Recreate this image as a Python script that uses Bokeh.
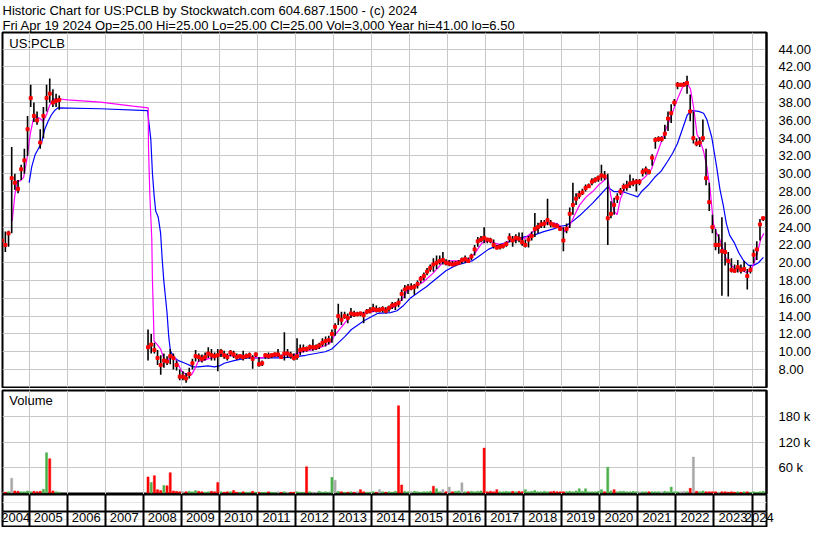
from bokeh.plotting import figure
from bokeh.models import (Range1d, FixedTicker, NumeralTickFormatter, Grid, LinearAxis,
                          Title, Label, CustomJSTickFormatter, ColumnDataSource)
from bokeh.layouts import column
from bokeh.embed import file_html
from bokeh.resources import INLINE

# ---------------- data ----------------
header_line1 = "Historic Chart for US:PCLB by Stockwatch.com 604.687.1500 - (c) 2024"
header_line2 = "Fri Apr 19 2024  Op=25.00  Hi=25.00  Lo=25.00  Cl=25.00  Vol=3,000  Year hi=41.00  lo=6.50"
symbol = "US:PCLB"
volume_title = "Volume"

# trading periods (year, month) inclusive
periods = [((2004, 4), (2005, 10)), ((2008, 2), (2024, 4))]

high = [
    24.0, 23.5, 23.6, 33.0, 30.0, 29.3, 31.0, 32.8, 36.5,
    40.0, 38.0, 37.0, 35.0, 37.5, 40.0, 40.7, 39.5, 39.0, 38.8,
    12.5, 12.0, 11.0, 10.2, 9.6, 9.8, 9.5, 10.3, 9.8, 9.0, 8.0,
    7.8, 7.6, 8.2, 9.2, 10.2, 9.8, 9.7, 9.9, 10.5, 10.3, 9.9, 10.3,
    10.3, 10.1, 9.8, 10.2, 10.1, 9.8, 9.7, 10.1, 9.8, 9.9, 9.6, 9.9,
    9.4, 9.0, 9.8, 9.9, 9.8, 9.9, 10.3, 9.7, 12.2, 10.3, 10.0, 9.8,
    11.5, 10.8, 10.8, 10.6, 10.8, 11.4, 10.8, 11.0, 11.5, 11.7, 11.8, 12.5,
    13.2, 15.4, 14.5, 14.5, 14.3, 14.9, 14.6, 14.5, 14.5, 14.5, 14.8, 15.0,
    15.4, 15.2, 15.0, 15.1, 15.0, 15.2, 15.6, 15.6, 16.0, 17.0, 17.5, 17.6,
    17.7, 17.6, 18.0, 18.5, 18.9, 19.4, 19.8, 20.5, 20.8, 20.8, 21.2, 20.4,
    20.3, 20.2, 20.2, 20.3, 20.6, 20.8, 20.6, 21.0, 22.0, 22.9, 23.0, 24.0,
    22.8, 22.8, 22.6, 22.0, 22.1, 22.1, 22.4, 23.3, 23.0, 23.2, 23.4, 23.4,
    22.6, 23.0, 23.5, 25.6, 24.5, 24.8, 24.8, 27.2, 24.8, 24.5, 24.4, 24.1,
    24.0, 24.4, 26.2, 29.0, 27.8, 28.1, 28.3, 28.8, 28.9, 29.5, 29.6, 29.8,
    31.0, 30.3, 30.0, 26.9, 27.3, 27.8, 28.4, 28.9, 29.2, 29.9, 29.5, 29.4,
    29.4, 30.6, 30.8, 30.5, 32.2, 34.1, 34.2, 34.2, 35.5, 37.0, 37.8, 38.4,
    40.3, 40.2, 40.3, 41.0, 38.9, 37.0, 34.0, 34.1, 36.1, 32.8, 29.0, 25.4,
    23.8, 23.2, 25.1, 22.3, 21.2, 20.5, 19.8, 20.3, 19.8, 20.2, 19.3, 19.7,
    21.5, 22.4, 24.9, 25.1,
]
low = [
    21.5, 21.2, 21.8, 23.3, 28.2, 27.8, 29.3, 30.0, 32.0,
    37.5, 35.8, 35.5, 32.8, 34.0, 37.0, 38.0, 37.5, 37.5, 37.2,
    9.0, 9.8, 9.8, 8.5, 7.4, 8.2, 8.5, 8.6, 8.0, 7.9, 6.8,
    6.8, 6.5, 7.0, 8.0, 8.9, 8.9, 8.8, 9.0, 9.3, 9.0, 9.0, 7.8,
    9.4, 9.2, 9.0, 9.5, 9.3, 9.1, 9.2, 9.0, 9.2, 9.2, 8.1, 9.4,
    8.3, 8.4, 9.2, 9.2, 9.3, 9.4, 9.4, 9.2, 9.0, 9.3, 9.2, 9.0,
    9.1, 9.6, 9.9, 10.0, 10.2, 10.1, 10.2, 10.3, 10.6, 10.6, 10.8, 11.0,
    11.8, 13.0, 13.0, 13.7, 13.2, 13.8, 13.9, 14.0, 14.0, 13.2, 14.2, 14.3,
    14.5, 14.4, 14.4, 14.4, 14.3, 14.5, 14.8, 14.7, 15.0, 15.7, 16.0, 16.5,
    16.9, 16.4, 17.1, 17.7, 18.0, 18.6, 19.0, 19.0, 19.3, 19.8, 19.8, 19.7,
    19.6, 19.7, 19.6, 19.8, 19.9, 20.0, 20.0, 20.3, 20.8, 21.8, 22.3, 22.2,
    22.2, 22.2, 21.6, 21.5, 21.5, 21.6, 21.8, 22.3, 21.8, 22.2, 22.3, 21.9,
    21.7, 21.7, 22.5, 22.9, 23.3, 23.9, 23.9, 24.2, 24.0, 24.0, 23.9, 23.6,
    21.3, 23.3, 23.9, 25.4, 26.5, 27.2, 27.6, 28.0, 28.4, 28.7, 29.0, 29.1,
    29.2, 29.3, 22.0, 25.0, 25.4, 26.7, 27.6, 28.0, 28.1, 28.4, 28.6, 28.0,
    28.7, 29.7, 29.9, 29.9, 30.9, 32.8, 33.6, 33.6, 33.9, 34.8, 35.7, 37.6,
    39.5, 39.8, 39.8, 39.0, 35.9, 33.4, 33.1, 33.0, 33.6, 28.7, 25.8, 23.3,
    21.4, 21.0, 16.3, 19.7, 16.2, 18.9, 18.9, 18.9, 18.8, 19.0, 17.0, 18.8,
    19.9, 20.3, 22.5, 24.7,
]
close = [
    22.5, 22.0, 23.3, 29.5, 29.0, 28.3, 30.5, 31.5, 35.0,
    38.5, 36.5, 36.0, 33.5, 36.5, 38.5, 39.0, 38.0, 38.2, 38.3,
    10.5, 10.8, 10.2, 9.3, 8.5, 9.0, 8.9, 9.5, 9.3, 8.5, 7.2,
    7.2, 7.0, 7.5, 8.7, 9.5, 9.4, 9.2, 9.4, 9.8, 9.6, 9.5, 9.6,
    10.0, 9.6, 9.4, 9.9, 9.7, 9.4, 9.5, 9.4, 9.5, 9.6, 9.2, 9.7,
    8.6, 8.7, 9.6, 9.5, 9.6, 9.7, 9.7, 9.4, 9.8, 9.8, 9.6, 9.3,
    9.5, 10.2, 10.3, 10.3, 10.5, 10.5, 10.5, 10.7, 11.0, 11.2, 11.3, 12.0,
    12.8, 14.0, 13.6, 14.0, 13.8, 14.3, 14.2, 14.2, 14.3, 14.1, 14.5, 14.6,
    14.8, 14.7, 14.7, 14.8, 14.6, 14.9, 15.2, 15.3, 15.5, 16.5, 17.0, 17.2,
    17.2, 17.3, 17.6, 18.2, 18.5, 19.0, 19.4, 19.8, 20.0, 20.2, 20.3, 20.0,
    19.9, 19.8, 19.9, 20.0, 20.3, 20.4, 20.2, 20.7, 21.5, 22.4, 22.6, 22.8,
    22.6, 22.5, 22.0, 21.7, 21.8, 21.9, 22.1, 22.8, 22.5, 22.8, 22.7, 22.3,
    22.0, 22.6, 23.0, 23.8, 24.0, 24.3, 24.4, 24.8, 24.4, 24.2, 24.1, 23.8,
    22.5, 23.8, 25.5, 26.5, 27.2, 27.6, 27.9, 28.4, 28.6, 29.1, 29.3, 29.5,
    29.8, 29.7, 25.0, 25.5, 26.5, 27.3, 28.0, 28.5, 28.6, 28.9, 29.0, 29.1,
    29.1, 30.2, 30.4, 30.2, 31.8, 33.8, 33.9, 33.9, 34.5, 36.2, 36.8, 38.0,
    40.0, 40.0, 40.0, 40.2, 37.0, 34.0, 33.4, 33.5, 34.0, 29.5, 26.8, 24.0,
    22.0, 22.0, 21.3, 21.2, 20.2, 19.2, 19.1, 19.5, 19.2, 19.3, 18.5, 19.2,
    20.9, 21.5, 24.3, 25.0,
]
volume_k = [
    3, 2, 3, 35, 5, 4, 3, 3, 5,
    3, 4, 3, 4, 9, 95, 81, 5, 3, 2,
    38, 25, 41, 8, 6, 18, 17, 48, 5, 4, 3,
    3, 3, 4, 3, 6, 4, 3, 2, 3, 4, 3, 25,
    3, 2, 3, 3, 6, 2, 2, 3, 2, 2, 4, 2,
    2, 2, 2, 3, 2, 2, 3, 2, 3, 2, 2, 2,
    3, 2, 2, 62, 3, 2, 2, 4, 2, 3, 2, 37,
    30, 4, 3, 2, 2, 3, 2, 3, 8, 3, 2, 2,
    3, 2, 8, 3, 2, 3, 2, 4, 206, 19, 4, 3,
    3, 4, 3, 2, 3, 3, 4, 16, 10, 3, 8, 3,
    14, 3, 4, 5, 24, 3, 3, 4, 3, 4, 5, 106,
    3, 4, 3, 8, 3, 3, 4, 3, 4, 3, 4, 3,
    8, 3, 4, 6, 3, 3, 4, 3, 3, 4, 3, 3,
    3, 3, 4, 3, 5, 10, 4, 10, 3, 3, 3, 4,
    8, 3, 61, 5, 8, 3, 4, 4, 3, 3, 4, 3,
    3, 3, 3, 3, 3, 3, 3, 3, 4, 3, 14, 3,
    3, 3, 4, 3, 11, 85, 4, 3, 5, 3, 3, 3,
    3, 2, 3, 3, 2, 3, 2, 3, 2, 3, 3, 2,
    3, 2, 3, 4,
]
# volume bar direction (u=up, d=down, n=unchanged)
volume_dir_known = {
    "2004-07": "n", "2005-06": "u", "2005-07": "d", "2008-02": "d", "2008-03": "u",
    "2008-04": "d", "2008-07": "u", "2008-08": "d", "2008-09": "d", "2009-12": "d",
    "2012-04": "d", "2012-12": "u", "2013-01": "n", "2013-09": "d", "2014-03": "n",
    "2014-09": "d", "2014-10": "d", "2015-08": "d", "2015-09": "u", "2015-11": "n",
    "2016-01": "n", "2016-05": "n", "2016-12": "d", "2018-01": "u", "2019-06": "u",
    "2019-08": "u", "2020-01": "u", "2020-03": "u", "2020-05": "d", "2021-11": "u",
    "2022-05": "d", "2022-06": "n",
}

# short moving average (magenta): decimal year, price
ma_short_t = [2004.555, 2004.625, 2004.684, 2004.769, 2004.856, 2004.941, 2005.026, 2005.113,
              2005.198, 2005.283, 2005.370, 2005.455, 2005.540, 2005.627, 2005.797, 2006.013,
              2006.869, 2007.726, 2008.129, 2008.137, 2008.173, 2008.224, 2008.240, 2008.266,
              2008.284, 2008.368, 2008.456, 2008.541, 2008.626, 2008.754, 2008.842, 2008.926,
              2009.011, 2009.140, 2009.268, 2009.356, 2009.441, 2009.569, 2009.698, 2009.870,
              2010.040, 2010.212, 2010.384, 2010.554, 2010.726, 2010.899, 2011.068, 2011.241,
              2011.413, 2011.583, 2011.755, 2011.927, 2012.097, 2012.269, 2012.441, 2012.611,
              2012.784, 2012.912, 2013.041, 2013.213, 2013.383, 2013.555, 2013.727, 2013.897,
              2014.154, 2014.411, 2014.584, 2014.756, 2014.841, 2014.925, 2015.098, 2015.355,
              2015.612, 2015.869, 2016.041, 2016.298, 2016.556, 2016.726, 2016.898, 2017.070,
              2017.240, 2017.412, 2017.584, 2017.754, 2018.011, 2018.184, 2018.356, 2018.526,
              2018.698, 2018.871, 2018.999, 2019.084, 2019.213, 2019.341, 2019.470, 2019.641,
              2019.811, 2019.984, 2020.156, 2020.200, 2020.286, 2020.371, 2020.454, 2020.542,
              2020.670, 2020.840, 2021.012, 2021.184, 2021.354, 2021.526, 2021.698, 2021.868,
              2022.040, 2022.169, 2022.297, 2022.382, 2022.470, 2022.555, 2022.639, 2022.727,
              2022.812, 2022.897, 2022.984, 2023.069, 2023.154, 2023.241, 2023.326, 2023.455,
              2023.583, 2023.712, 2023.840, 2023.969, 2024.054, 2024.141, 2024.226, 2024.311]
ma_short_v = [24.7, 27.6, 29.2, 29.2, 29.6, 31.6, 34.4, 36.2,
              36.4, 36.2, 35.9, 36.6, 37.7, 38.4, 38.4, 38.3,
              38.05, 37.6, 37.4, 33.0, 27.6, 22.6, 18.2, 14.1,
              11.2, 10.8, 10.3, 9.2, 9.0, 9.6, 9.2, 8.5,
              7.8, 7.4, 7.4, 8.1, 8.9, 9.0, 9.2, 9.4,
              9.7, 9.6, 9.5, 9.5, 9.4, 9.4, 9.3, 9.4,
              9.5, 9.5, 9.7, 9.6, 9.9, 10.1, 10.2, 10.4,
              10.7, 11.0, 11.9, 12.8, 13.7, 14.3, 14.3, 14.4,
              14.6, 14.8, 15.0, 15.7, 16.1, 16.8, 17.2, 17.8,
              18.8, 20.0, 20.2, 20.2, 20.4, 21.1, 22.2, 22.5,
              22.2, 22.0, 22.4, 22.5, 22.7, 23.3, 23.8, 24.4,
              24.5, 24.4, 24.0, 23.5, 24.2, 25.4, 26.5, 27.4,
              28.0, 28.8, 29.4, 29.6, 27.6, 25.8, 25.4, 27.2,
              28.5, 28.9, 29.0, 29.6, 30.5, 32.5, 34.6, 36.4,
              38.4, 39.7, 40.2, 39.5, 37.3, 34.4, 33.7, 32.5,
              30.8, 28.3, 24.4, 23.3, 22.6, 21.5, 20.4, 19.7,
              19.3, 19.3, 18.9, 19.1, 20.0, 21.1, 22.6, 23.3]

# long moving average (blue): decimal year, price
ma_long_t = [2005.000, 2005.069, 2005.154, 2005.242, 2005.327, 2005.411, 2005.499, 2005.584,
             2005.669, 2005.756, 2006.869, 2008.111, 2008.155, 2008.199, 2008.240, 2008.284,
             2008.327, 2008.394, 2008.456, 2008.497, 2008.541, 2008.584, 2008.626, 2008.669,
             2008.713, 2008.798, 2008.926, 2009.099, 2009.312, 2009.441, 2009.698, 2009.870,
             2009.999, 2010.127, 2010.384, 2010.726, 2011.068, 2011.583, 2011.927, 2012.269,
             2012.526, 2012.784, 2012.956, 2013.125, 2013.298, 2013.470, 2013.640, 2013.812,
             2013.984, 2014.154, 2014.498, 2014.668, 2014.841, 2015.013, 2015.270, 2015.440,
             2015.697, 2015.954, 2016.211, 2016.468, 2016.641, 2016.813, 2017.070, 2017.327,
             2017.497, 2017.754, 2018.011, 2018.268, 2018.526, 2018.783, 2018.955, 2019.127,
             2019.297, 2019.470, 2019.641, 2019.811, 2019.984, 2020.197, 2020.369, 2020.583,
             2020.799, 2020.994, 2021.096, 2021.269, 2021.441, 2021.611, 2021.783, 2021.912,
             2022.040, 2022.169, 2022.297, 2022.426, 2022.598, 2022.727, 2022.812, 2022.941,
             2023.069, 2023.154, 2023.241, 2023.326, 2023.411, 2023.540, 2023.654, 2023.783,
             2023.911, 2024.040, 2024.169, 2024.298]
ma_long_v = [29.0, 30.8, 32.1, 32.8, 33.5, 35.0, 35.9, 36.6,
             37.1, 37.4, 37.3, 37.1, 35.5, 33.8, 30.1, 27.6,
             25.8, 25.1, 23.3, 20.4, 17.9, 16.1, 14.3, 11.7,
             10.1, 9.4, 9.0, 8.7, 8.3, 8.3, 8.4, 8.3,
             8.4, 8.7, 9.0, 9.3, 9.3, 9.3, 9.4, 9.6,
             9.8, 10.0, 10.3, 11.0, 11.7, 12.5, 13.0, 13.5,
             13.9, 14.3, 14.4, 14.6, 15.2, 16.0, 16.8, 17.3,
             18.2, 19.1, 19.7, 20.0, 20.2, 20.7, 21.5, 22.0,
             22.2, 22.5, 22.9, 23.1, 23.5, 23.8, 24.1, 24.2,
             24.7, 25.3, 26.0, 26.7, 27.5, 28.5, 28.0, 28.0,
             27.7, 27.4, 28.0, 28.7, 29.6, 30.3, 31.4, 32.3,
             33.4, 35.0, 36.6, 37.1, 37.0, 36.8, 36.1, 34.1,
             30.8, 28.3, 26.5, 24.4, 23.1, 22.2, 21.1, 20.2,
             19.7, 19.7, 20.0, 20.6]

price_ticks = [8, 10, 12, 14, 16, 18, 20, 22, 24, 26, 28, 30, 32, 34, 36, 38, 40, 42, 44]
volume_ticks_k = [60, 120, 180]
year_starts = list(range(2005, 2025))

# ---------------- derived ----------------
months = []
for (y0, m0), (y1, m1) in periods:
    y, m = y0, m0
    while (y, m) <= (y1, m1):
        months.append((y, m))
        m += 1
        if m > 12:
            y, m = y + 1, 1
assert len(months) == len(high) == len(low) == len(close) == len(volume_k)

t_mid = [y + (m - 0.5) / 12.0 for (y, m) in months]
keys = [f"{y}-{m:02d}" for (y, m) in months]

COL = {"u": "#4cb04c", "d": "#ff0000", "n": "#a8a8a8"}
vol_colors = []
for i, k in enumerate(keys):
    if k in volume_dir_known:
        dr = volume_dir_known[k]
    elif i == 0 or close[i] == close[i - 1]:
        dr = "n"
    else:
        dr = "u" if close[i] > close[i - 1] else "d"
    vol_colors.append(COL[dr])

x_start, x_end = 2004.30, 2024.38
# each year label sits in the middle of the visible part of its year
label_pos = [(x_start + year_starts[0]) / 2.0] + [y + 0.5 for y in year_starts[:-1]] + \
            [(year_starts[-1] + x_end) / 2.0]

FONT = "Liberation Sans"
GRID = "#c8c8c8"
W = 814
L = 2
R = 48

src = ColumnDataSource(dict(t=t_mid, high=high, low=low, close=close, vol=volume_k, vcol=vol_colors))
xr = Range1d(x_start, x_end)


def style_right_axis(ax):
    ax.axis_line_color = "black"
    ax.axis_line_width = 2
    ax.major_tick_line_color = None
    ax.minor_tick_line_color = None
    ax.major_label_standoff = 6
    ax.major_label_text_font = FONT
    ax.major_label_text_font_size = "13px"
    ax.major_label_text_color = "black"


# ---------------- price panel ----------------
p = figure(width=W, height=388, x_range=xr, y_range=Range1d(5.98, 45.87),
           x_axis_location=None, y_axis_location="right", title=None,
           toolbar_location=None, output_backend="svg",
           min_border_left=L, min_border_right=R, min_border_top=29, min_border_bottom=1)
p.background_fill_color = "white"
p.border_fill_color = "white"
p.outline_line_color = "black"
p.outline_line_width = 2

head = Title(text=header_line1 + "\n" + header_line2, align="left", text_font=FONT,
             text_font_size="13px", text_font_style="normal", text_color="black",
             text_line_height=1.0, standoff=0)
p.add_layout(head, "above")

ya = p.yaxis[0]
ya.ticker = FixedTicker(ticks=price_ticks)
ya.formatter = NumeralTickFormatter(format="0.00")
style_right_axis(ya)
p.ygrid.ticker = FixedTicker(ticks=price_ticks)
p.ygrid.grid_line_color = GRID
p.add_layout(Grid(dimension=0, ticker=FixedTicker(ticks=year_starts), grid_line_color=GRID))

p.line(ma_long_t, ma_long_v, line_color="#0000ff", line_width=1.2)
p.line(ma_short_t, ma_short_v, line_color="#ff00ff", line_width=1.2)
p.segment(x0="t", y0="low", x1="t", y1="high", source=src, line_color="black", line_width=1.6)
p.scatter(x="t", y="close", source=src, marker="square", size=3, fill_color="#ff0000",
          line_color="#ff0000")
p.add_layout(Label(x=x_start + 0.18, y=45.45, text=symbol, text_font=FONT, text_font_size="13px",
                   text_baseline="top", text_color="black"))

# ---------------- volume panel ----------------
v = figure(width=W, height=106, x_range=xr, y_range=Range1d(-3.5, 242),
           x_axis_location=None, y_axis_location="right", title=None,
           toolbar_location=None, output_backend="svg",
           min_border_left=L, min_border_right=R, min_border_top=2, min_border_bottom=0)
v.background_fill_color = "white"
v.border_fill_color = "white"
v.outline_line_color = "black"
v.outline_line_width = 2

va = v.yaxis[0]
va.ticker = FixedTicker(ticks=volume_ticks_k)
va.formatter = CustomJSTickFormatter(code="return tick + ' k'")
style_right_axis(va)
v.ygrid.ticker = FixedTicker(ticks=volume_ticks_k)
v.ygrid.grid_line_color = GRID
v.add_layout(Grid(dimension=0, ticker=FixedTicker(ticks=year_starts), grid_line_color=GRID))

v.vbar(x="t", top="vol", bottom=0, width=0.055, source=src, fill_color="vcol", line_color="vcol",
       line_width=0.5)
v.add_layout(Label(x=x_start + 0.18, y=236, text=volume_title, text_font=FONT, text_font_size="13px",
                   text_baseline="top", text_color="black"))

# ---------------- date strip ----------------
d = figure(width=W, height=33, x_range=xr, y_range=Range1d(0, 2),
           x_axis_location=None, y_axis_location=None, title=None,
           toolbar_location=None, output_backend="svg",
           min_border_left=L, min_border_right=R, min_border_top=0, min_border_bottom=0)
d.background_fill_color = "white"
d.border_fill_color = "white"
d.outline_line_color = "black"
d.outline_line_width = 2
d.add_layout(Grid(dimension=0, ticker=FixedTicker(ticks=year_starts),
                  grid_line_color="black", grid_line_width=2))
d.add_layout(Grid(dimension=1, ticker=FixedTicker(ticks=[0.94]),
                  grid_line_color="black", grid_line_width=2))

# year labels drawn by an axis (not clipped), pulled up into the lower band of the strip
yr_axis = LinearAxis(ticker=FixedTicker(ticks=label_pos),
                     formatter=CustomJSTickFormatter(code="return String(Math.floor(tick))"))
yr_axis.axis_line_color = None
yr_axis.major_tick_line_color = None
yr_axis.minor_tick_line_color = None
yr_axis.major_tick_out = 0
yr_axis.major_tick_in = 0
yr_axis.minor_tick_out = 0
yr_axis.minor_tick_in = 0
yr_axis.major_label_standoff = -15
yr_axis.major_label_text_font = FONT
yr_axis.major_label_text_font_size = "13px"
yr_axis.major_label_text_color = "black"
d.add_layout(yr_axis, "below")

layout = column(p, v, d, spacing=0)
open("out.html", "w").write(file_html(layout, INLINE))
